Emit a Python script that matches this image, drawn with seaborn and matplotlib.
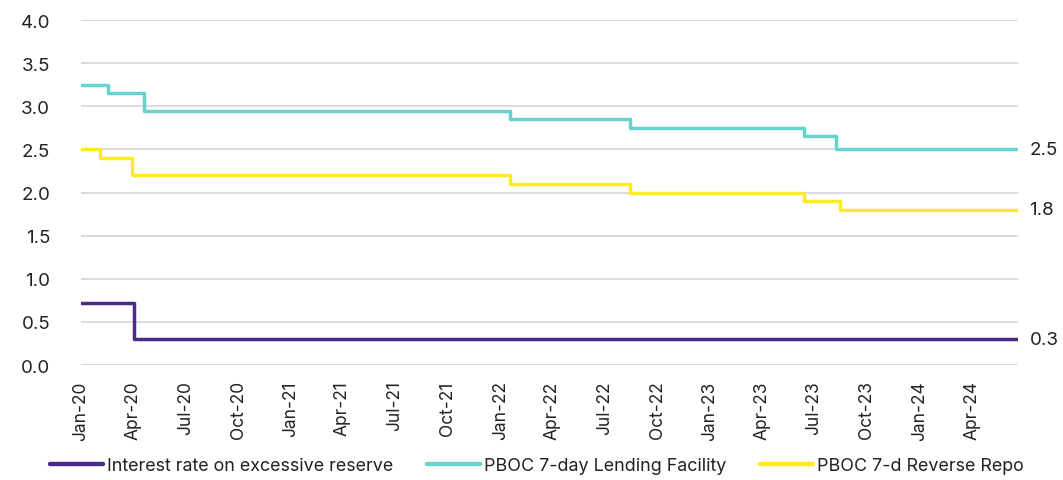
import matplotlib
matplotlib.use("Agg")
import matplotlib.pyplot as plt
import matplotlib.dates as mdates
import pandas as pd
import seaborn as sns

# Policy rate change dates and levels (%); each level holds until the next date
END_DATE = "2024-06-21"

ioer_dates = ["2020-01-01", "2020-04-03", END_DATE]
ioer_rates = [0.72, 0.3, 0.3]

slf_dates = ["2020-01-01", "2020-02-18", "2020-04-20", "2022-01-17",
             "2022-08-15", "2023-06-13", "2023-08-08", END_DATE]
slf_rates = [3.25, 3.15, 2.95, 2.85, 2.75, 2.65, 2.5, 2.5]

repo_dates = ["2020-01-01", "2020-02-03", "2020-03-30", "2022-01-17",
              "2022-08-15", "2023-06-13", "2023-08-15", END_DATE]
repo_rates = [2.5, 2.4, 2.2, 2.1, 2.0, 1.9, 1.8, 1.8]

series_names = ["Interest rate on excessive reserve",
                "PBOC 7-day Lending Facility",
                "PBOC 7-d Reverse Repo"]
series_colors = ["#4b2a88", "#66d3cc", "#ffec1f"]

tick_dates = pd.date_range("2020-01-01", "2024-04-01", freq="QS")
y_ticks = [0.0, 0.5, 1.0, 1.5, 2.0, 2.5, 3.0, 3.5, 4.0]

frames = []
for name, dates, rates in zip(series_names,
                              [ioer_dates, slf_dates, repo_dates],
                              [ioer_rates, slf_rates, repo_rates]):
    frames.append(pd.DataFrame({"date": pd.to_datetime(dates),
                                "rate": rates, "series": name}))
df = pd.concat(frames, ignore_index=True)

sns.set_theme(style="white")
plt.rcParams["font.family"] = ["Inter", "DejaVu Sans"]
text_color = "#222222"
grid_color = "#d9d9d9"

fig = plt.figure(figsize=(10.63, 4.81), dpi=100)
ax = fig.add_axes([0.0759, 0.239, 0.958 - 0.0759, 0.9563 - 0.239])

sns.lineplot(data=df, x="date", y="rate", hue="series",
             hue_order=series_names, palette=series_colors,
             drawstyle="steps-post", linewidth=2.5, ax=ax, legend=False,
             estimator=None, sort=False, zorder=3)

ax.set_xlim(pd.Timestamp("2020-01-01"), pd.Timestamp(END_DATE))
ax.set_ylim(0, 4)
ax.set_yticks(y_ticks)
ax.set_yticklabels([f"{v:.1f}" for v in y_ticks])
ax.set_xticks(tick_dates)
ax.xaxis.set_major_formatter(mdates.DateFormatter("%b-%y"))
ax.set_xlabel("")
ax.set_ylabel("")

for v in y_ticks:
    ax.axhline(v, color=grid_color, linewidth=1.3, zorder=1)

for s in ax.spines.values():
    s.set_visible(False)

ax.tick_params(axis="y", length=0, pad=22, labelsize=13.5, labelcolor=text_color)
ax.tick_params(axis="x", length=7, width=1.3, color=grid_color, direction="out",
               pad=4, labelsize=12.5, labelcolor=text_color, labelrotation=90)

# End-of-series value labels
for dates, rates in [(slf_dates, slf_rates), (repo_dates, repo_rates),
                     (ioer_dates, ioer_rates)]:
    ax.annotate(f"{rates[-1]:.1f}", xy=(pd.Timestamp(dates[-1]), rates[-1]),
                xytext=(8, 0), textcoords="offset points", va="center",
                ha="left", fontsize=13.5, color=text_color,
                annotation_clip=False)

handles = [plt.Line2D([], [], color=c, linewidth=3.2) for c in series_colors]
fig.legend(handles, series_names, loc="center", bbox_to_anchor=(537 / 1063, 1 - 467 / 481),
           ncol=3, frameon=False, fontsize=12.9, handlelength=2.95,
           handletextpad=0.22, columnspacing=1.9, labelcolor=text_color,
           borderaxespad=0, borderpad=0)

fig.savefig("out.png", dpi=100)
